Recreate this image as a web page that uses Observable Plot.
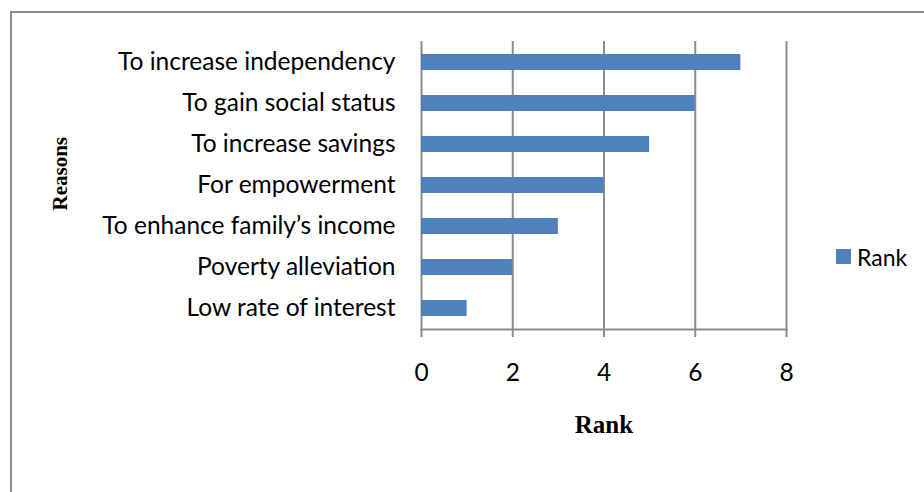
<!DOCTYPE html>
<html>
<head>
<meta charset="utf-8">
<script src="https://cdn.jsdelivr.net/npm/d3@7"></script>
<script src="https://cdn.jsdelivr.net/npm/@observablehq/plot@0.6"></script>
<style>
  html, body { margin: 0; padding: 0; background: #fff; }
  #wrap { position: relative; width: 924px; height: 492px; overflow: hidden; }
  #border { position: absolute; left: 10px; top: 11px; width: 930px; height: 500px;
            border-top: 2px solid #8c8c8c; border-left: 2px solid #8c8c8c; box-sizing: border-box; }
  #chart { position: absolute; left: 0; top: 0; }
  #legend { position: absolute; left: 836px; top: 240px; font-family: Lato, sans-serif; font-size: 23px; color: #000; }
  #legend svg { margin-right: 6px !important; }
</style>
</head>
<body>
<div id="wrap">
  <div id="border"></div>
  <div id="chart"></div>
  <div id="legend"></div>
</div>
<script>
const reasons = [
  "To increase independency",
  "To gain social status",
  "To increase savings",
  "For empowerment",
  "To enhance family’s income",
  "Poverty alleviation",
  "Low rate of interest"
];
const ranks = [7, 6, 5, 4, 3, 2, 1];
const xTicks = [0, 2, 4, 6, 8];
const seriesName = "Rank";
const xTitle = "Rank";
const yTitle = "Reasons";

const data = reasons.map((r, i) => ({reason: r, rank: ranks[i]}));
const barColor = "#4F81BD";
const gridColor = "#8c8c8c";

const chart = Plot.plot({
  width: 924,
  height: 492,
  marginLeft: 421,
  marginRight: 138,
  marginTop: 41,
  marginBottom: 163,
  style: {fontFamily: "Lato, sans-serif", fontSize: "24.5px", color: "#000", background: "transparent"},
  x: {domain: [0, 8], ticks: xTicks},
  y: {domain: reasons, paddingInner: 0.62, paddingOuter: 0.31},
  marks: [
    Plot.gridX(xTicks, {stroke: gridColor, strokeWidth: 2, strokeOpacity: 1}),
    Plot.axisX({ticks: xTicks, tickSize: 8, tickPadding: 26, stroke: gridColor, strokeWidth: 2, label: null, fontSize: 24.5}),
    Plot.frame({anchor: "bottom", stroke: gridColor, strokeWidth: 2}),
    Plot.axisY({tickSize: 0, tickPadding: 26, label: null, fontSize: 24.5}),
    Plot.barX(data, {x: "rank", y: "reason", fill: barColor}),
    Plot.text([xTitle], {frameAnchor: "bottom", dy: 95, lineAnchor: "middle",
      fontFamily: "'Liberation Serif', 'Times New Roman', serif", fontWeight: "bold", fontSize: 25, fill: "#000"}),
    Plot.text([yTitle], {frameAnchor: "left", dx: -361, dy: 25, rotate: -90, lineAnchor: "middle",
      fontFamily: "'Liberation Serif', 'Times New Roman', serif", fontWeight: "bold", fontSize: 21, fill: "#000"})
  ]
});
document.getElementById("chart").appendChild(chart);

const leg = Plot.legend({
  color: {domain: [seriesName], range: [barColor]},
  legend: "swatches",
  swatchSize: 15,
  style: {fontFamily: "Lato, sans-serif", fontSize: "23px", color: "#000"}
});
document.getElementById("legend").appendChild(leg);
</script>
</body>
</html>
